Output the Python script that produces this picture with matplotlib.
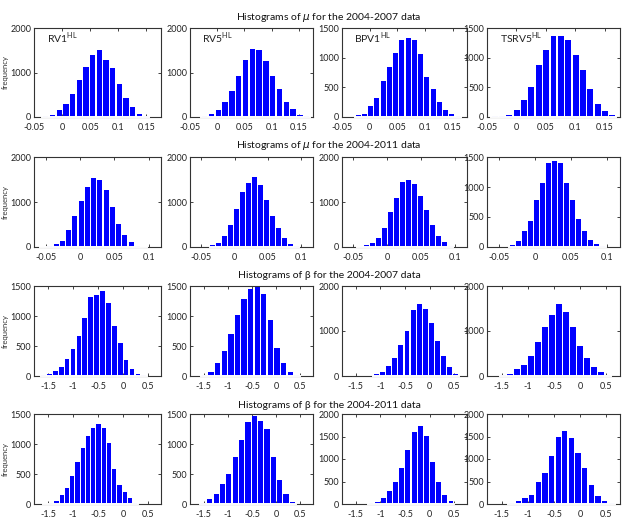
"""Bootstrap histograms of mu and beta for four HL estimators, two samples."""

import matplotlib

matplotlib.use("Agg")
import matplotlib.pyplot as plt

plt.rcParams["font.family"] = ["Lato", "DejaVu Sans"]
plt.rcParams["mathtext.fontset"] = "custom"
plt.rcParams["mathtext.rm"] = "Lato"
plt.rcParams["mathtext.it"] = "DejaVu Sans:italic"

# ---- data: (first bin centre, bin width, counts) ----
estimators = ["RV1", "RV5", "BPV1", "TSRV5"]
row_titles = [
    r"Histograms of $\mu$ for the 2004-2007 data",
    r"Histograms of $\mu$ for the 2004-2011 data",
    "Histograms of β for the 2004-2007 data",
    "Histograms of β for the 2004-2011 data",
]

mu0711_rv1 = [15, 35, 150, 285, 510, 840, 1130, 1390, 1500, 1270, 1090, 740, 430, 220, 75, 12]
mu0711_rv5 = [15, 60, 150, 330, 590, 930, 1275, 1525, 1500, 1250, 920, 625, 330, 175, 40, 15]
mu0711_bpv1 = [28, 56, 180, 320, 605, 840, 1080, 1300, 1330, 1290, 1063, 670, 465, 250, 112, 45, 10]
mu0711_tsrv5 = [10, 10, 40, 125, 290, 505, 880, 1130, 1360, 1360, 1290, 1045, 795, 475, 225, 95, 28]

mu0411_rv1 = [5, 25, 60, 140, 370, 700, 1030, 1340, 1540, 1500, 1270, 890, 510, 270, 110, 20, 5]
mu0411_rv5 = [40, 90, 250, 500, 850, 1230, 1430, 1550, 1370, 1050, 700, 430, 200, 75, 20]
mu0411_bpv1 = [10, 35, 90, 210, 430, 780, 1090, 1445, 1480, 1410, 1135, 815, 480, 235, 110, 30]
mu0411_tsrv5 = [30, 100, 270, 430, 790, 1060, 1400, 1440, 1400, 1060, 790, 470, 270, 110, 50, 10]

beta0407_rv1 = [15, 30, 85, 150, 280, 450, 670, 960, 1310, 1355, 1425, 1225, 830, 555, 265, 115, 40, 12]
beta0407_rv5 = [12, 68, 225, 410, 695, 1015, 1290, 1450, 1480, 1360, 940, 470, 210, 68, 12]
beta0407_bpv1 = [35, 95, 225, 400, 690, 1010, 1460, 1590, 1480, 1175, 770, 450, 200, 50]
beta0407_tsrv5 = [15, 50, 150, 250, 450, 750, 1090, 1365, 1610, 1420, 1090, 675, 410, 200, 90, 30]

beta0411_rv1 = [5, 15, 45, 150, 270, 460, 700, 935, 1130, 1270, 1330, 1270, 1015, 590, 320, 195, 100, 15]
beta0411_rv5 = [10, 80, 170, 340, 500, 790, 1060, 1370, 1470, 1380, 1250, 780, 400, 170, 40]
beta0411_bpv1 = [15, 50, 135, 285, 480, 810, 1200, 1590, 1740, 1520, 930, 480, 190, 60]
beta0411_tsrv5 = [15, 75, 130, 210, 480, 700, 1070, 1480, 1625, 1460, 1140, 810, 430, 180, 60, 15]

bin_starts = [
    [-0.029, -0.023, -0.021, -0.037],
    [-0.053, -0.033, -0.040, -0.032],
    [-1.59, -1.48, -1.08, -1.47],
    [-1.54, -1.50, -1.19, -1.31],
]
bin_widths = [
    [0.0119, 0.0125, 0.0113, 0.0125],
    [0.0091, 0.0090, 0.0089, 0.0084],
    [0.118, 0.136, 0.124, 0.133],
    [0.105, 0.131, 0.125, 0.127],
]
counts = [
    [mu0711_rv1, mu0711_rv5, mu0711_bpv1, mu0711_tsrv5],
    [mu0411_rv1, mu0411_rv5, mu0411_bpv1, mu0411_tsrv5],
    [beta0407_rv1, beta0407_rv5, beta0407_bpv1, beta0407_tsrv5],
    [beta0411_rv1, beta0411_rv5, beta0411_bpv1, beta0411_tsrv5],
]

x_limits = [(-0.05, 0.176), (-0.067, 0.118), (-1.78, 0.76), (-1.78, 0.76)]
x_ticks = [
    [-0.05, 0, 0.05, 0.1, 0.15],
    [-0.05, 0, 0.05, 0.1],
    [-1.5, -1, -0.5, 0, 0.5],
    [-1.5, -1, -0.5, 0, 0.5],
]
x_ticklabels = [
    ["-0.05", "0", "0.05", "0.1", "0.15"],
    ["-0.05", "0", "0.05", "0.1"],
    ["-1.5", "-1", "-0.5", "0", "0.5"],
    ["-1.5", "-1", "-0.5", "0", "0.5"],
]
y_tops = [[2000, 2000, 1500, 1500], [2000, 2000, 2000, 1500],
          [1500, 1500, 2000, 2000], [1500, 1500, 2000, 2000]]
y_steps = [[1000, 1000, 500, 500], [1000, 1000, 1000, 500],
           [500, 500, 1000, 1000], [500, 500, 500, 500]]

# ---- layout in pixels (figure is 630 x 518) ----
W, H = 630, 518
col_edges = [(34, 161), (190, 313), (342, 467), (487, 620)]
row_edges = [(28, 117), (157, 247), (286, 376), (414, 504)]
title_y = [17, 146, 276, 405]
BLUE = "#0000ff"

fig = plt.figure(figsize=(W / 100, H / 100), dpi=100)

for r in range(4):
    top, bottom = row_edges[r]
    for c in range(4):
        left, right = col_edges[c]
        ax = fig.add_axes([left / W, 1 - bottom / H, (right - left) / W, (bottom - top) / H])
        start, width = bin_starts[r][c], bin_widths[r][c]
        vals = counts[r][c]
        centres = [start + k * width for k in range(len(vals))]
        ax.bar(centres, vals, width=width * 0.8, color=BLUE, linewidth=0, zorder=2)
        # MATLAB-style white baseline hides the x axis under the data range
        ax.plot([centres[0] - width / 2, centres[-1] + width / 2], [0, 0],
                color="white", lw=1.4, clip_on=False, zorder=4)

        ax.set_xlim(*x_limits[r])
        ax.set_ylim(0, y_tops[r][c])
        ax.set_xticks(x_ticks[r])
        ax.set_xticklabels(x_ticklabels[r])
        ax.set_yticks(range(0, y_tops[r][c] + 1, y_steps[r][c]))
        ax.tick_params(direction="in", top=True, right=True, length=2.5, width=0.6,
                       labelsize=6.5, colors="#222222")
        ax.tick_params(axis="x", pad=4.5)
        ax.tick_params(axis="y", pad=2)
        for spine in ax.spines.values():
            spine.set_linewidth(0.8)
            spine.set_color("#333333")
            spine.set_zorder(3)

        if r == 0:
            ax.text(0.1, 0.965, estimators[c] + r"$^{\mathrm{HL}}$", transform=ax.transAxes,
                    fontsize=7.5, ha="left", va="top", color="#222222")

    fig.text(5 / W, 1 - (top + bottom) / 2 / H, "frequency", rotation=90,
             ha="center", va="center", fontsize=5.5, color="#333333")
    fig.text(329 / W, 1 - title_y[r] / H, row_titles[r], ha="center", va="center",
             fontsize=7.5, color="#111111")

fig.savefig("out.png", dpi=100)
